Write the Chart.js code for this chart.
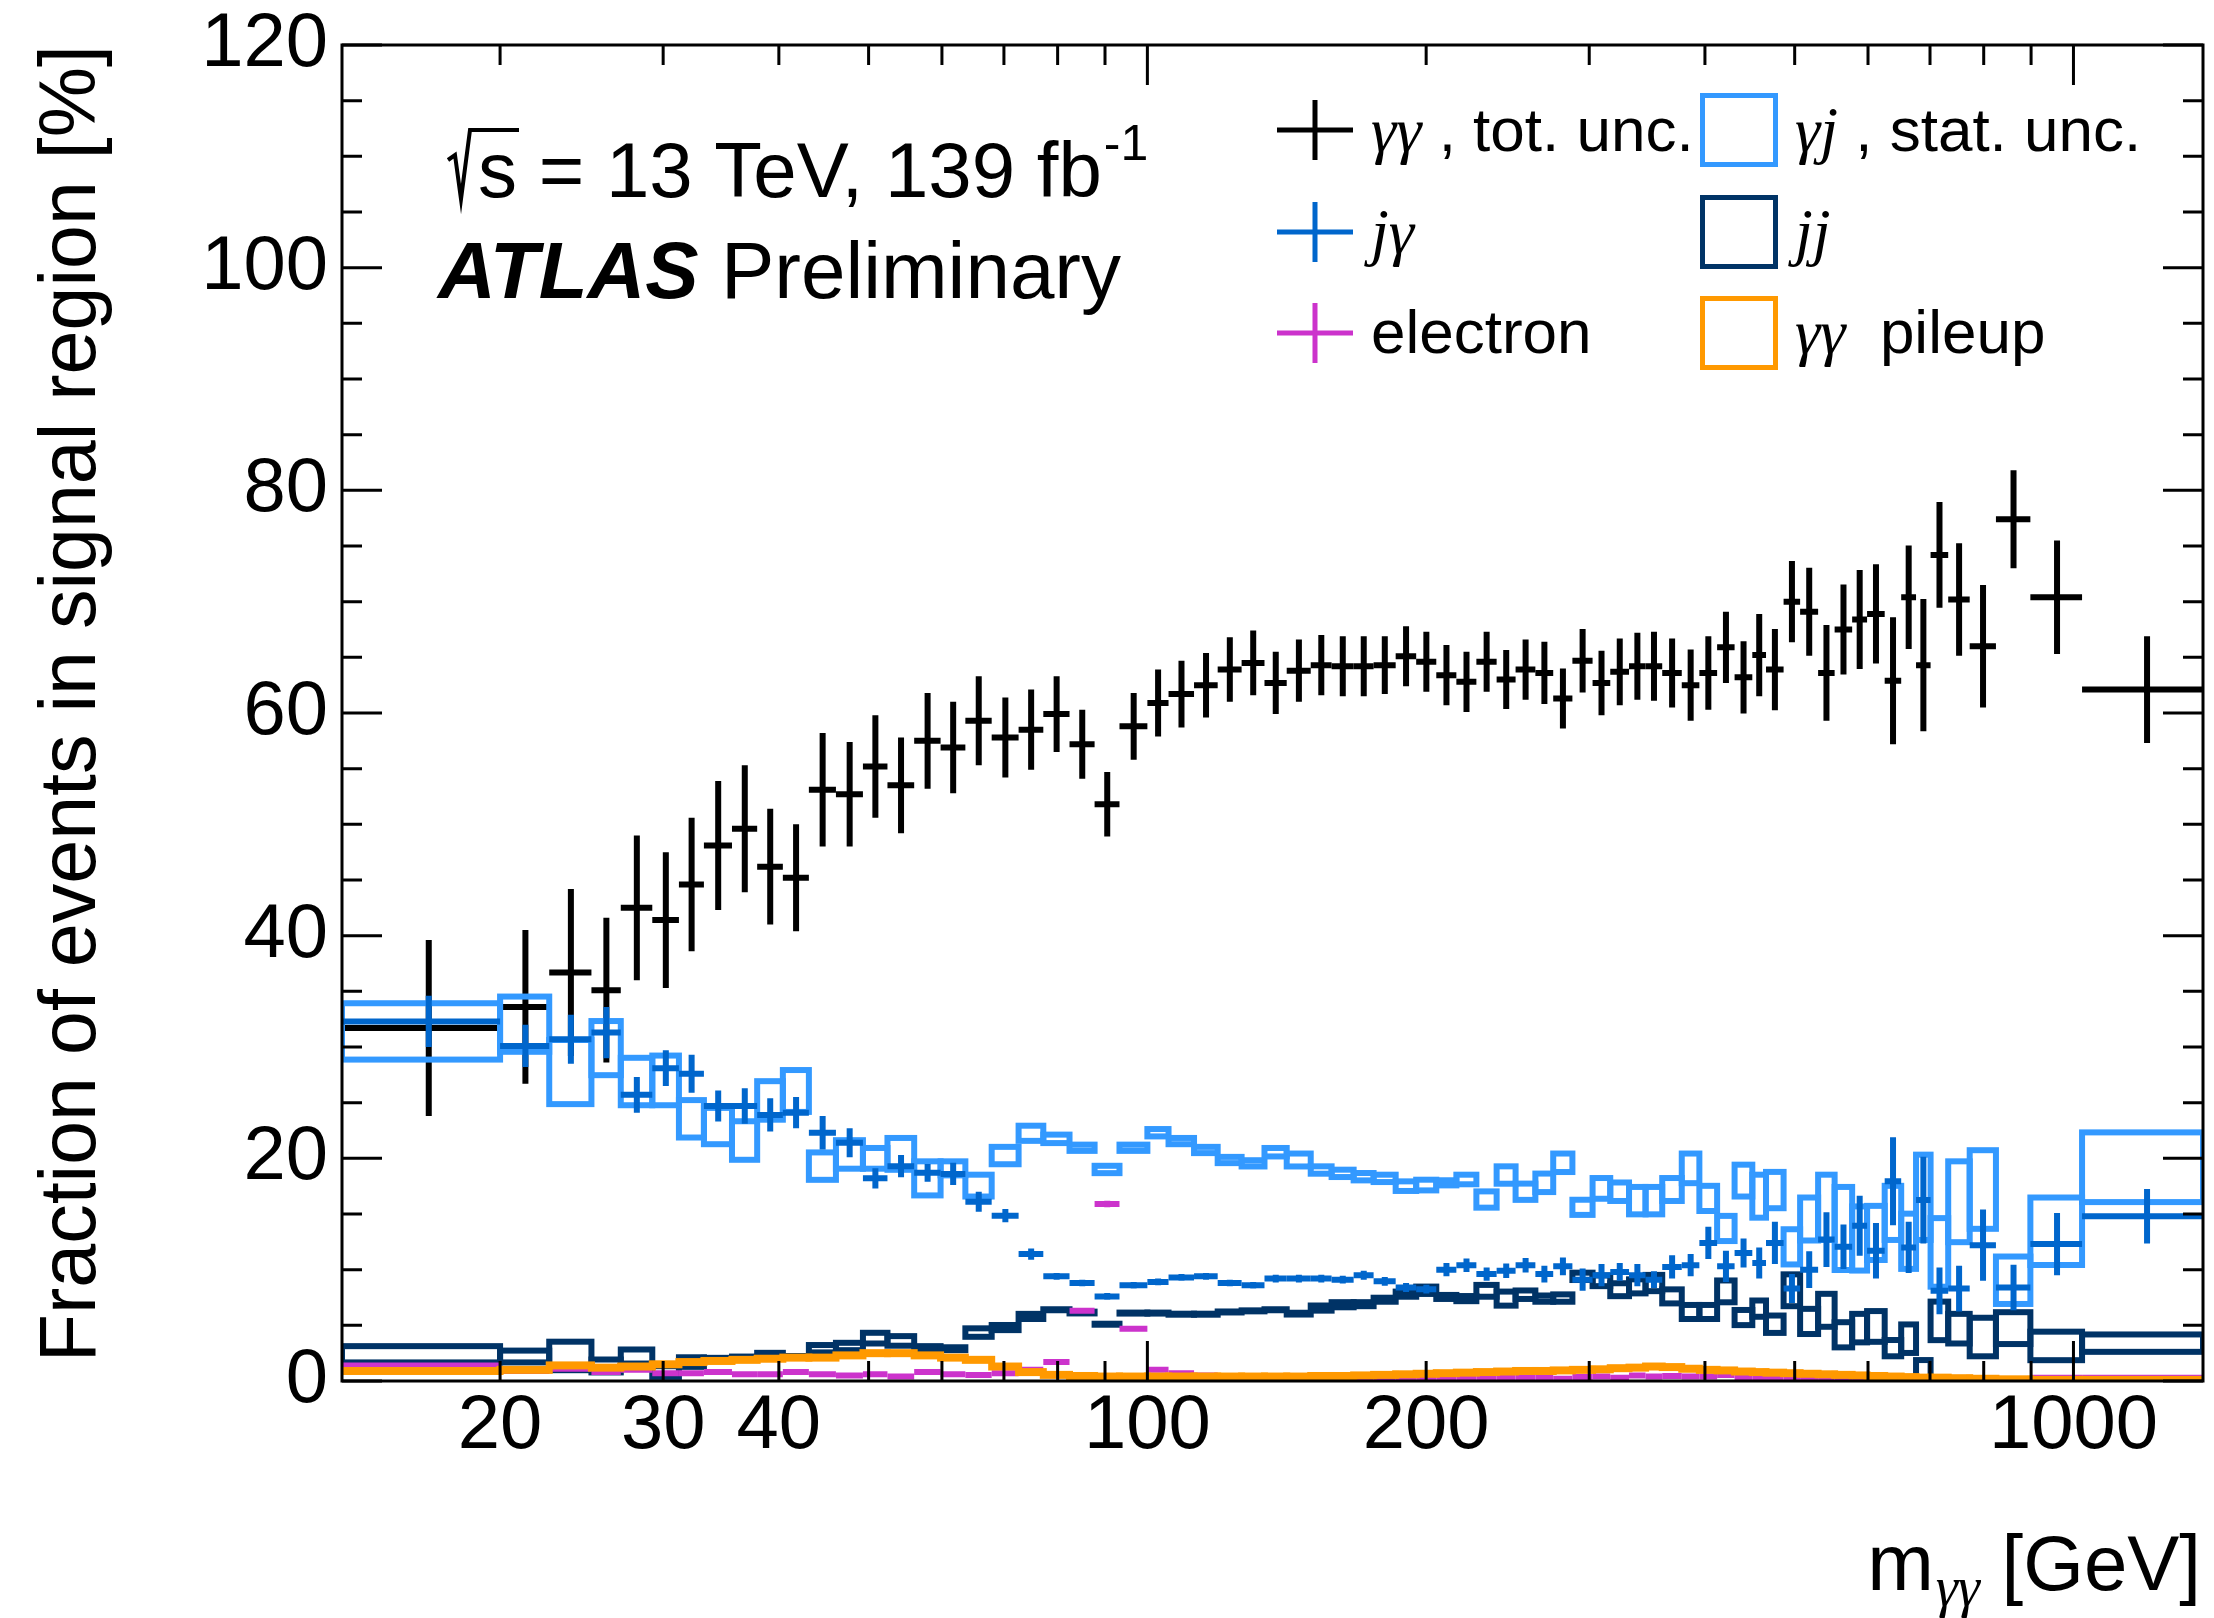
<!DOCTYPE html>
<html lang="en">
<head>
<meta charset="UTF-8">
<title>Fraction of events in signal region</title>
<script src="https://cdn.jsdelivr.net/npm/chart.js"></script>
<style>
  * { margin: 0; padding: 0; }
  body { background: #fff; }
  canvas { display: block; }
</style>
</head>
<body>
<canvas id="myChart" width="2214" height="1618"></canvas>
<script>
// m_yy bin edges [GeV]
const binEdges = [13.5, 20, 22.6, 25.1, 27.0, 29.2, 31.2, 33.2, 35.6, 37.9, 40.4, 43.1, 46.1, 49.3, 52.4, 56.0,
  59.8, 63.6, 67.9, 72.6, 77.2, 82.4, 87.7, 93.3, 100, 105.4, 112.3, 119.1, 126.4, 133.8, 141.4, 150.1,
  158.1, 167.0, 175.5, 185.4, 195.1, 205.1, 215.6, 226.6, 238.3, 249.8, 262.4, 274.3, 287.7, 302.5, 316.1,
  331.2, 345.1, 359.7, 377.6, 394.5, 412.3, 430.6, 450, 465.6, 486.4, 506.8, 530, 552.2, 576.8, 598.6,
  625.4, 651.6, 676.1, 701, 732.4, 772.6, 824.7, 898.4, 1021.6, 1380];

// yy, tot. unc.
const yyVal = [31.7, 33.6, 36.7, 35.1, 42.5, 41.4, 44.6, 48.1, 49.6, 46.2,
  45.2, 53.1, 52.7, 55.2, 53.5, 57.5, 56.9, 59.3, 57.8, 58.5,
  59.9, 57.2, 51.8, 58.8, 60.9, 61.7, 62.5, 63.9, 64.5, 62.7,
  63.8, 64.3, 64.2, 64.2, 64.3, 65.1, 64.6, 63.4, 62.8, 64.6,
  63.0, 63.9, 63.6, 61.3, 64.7, 62.7, 63.7, 64.2, 64.2, 63.6,
  62.5, 63.6, 65.9, 63.2, 65.2, 63.9, 70.0, 69.1, 63.6, 67.5,
  68.4, 68.9, 62.9, 70.4, 64.3, 74.2, 70.2, 66.0, 77.4, 70.4,
  62.1];
const yyErr = [7.9, 6.9, 7.5, 6.5, 6.5, 6.1, 6.0, 5.8, 5.7, 5.2,
  4.8, 5.1, 4.7, 4.6, 4.3, 4.3, 4.1, 4.0, 3.6, 3.6,
  3.4, 3.1, 2.9, 3.0, 3.0, 3.0, 2.9, 2.9, 2.9, 2.8,
  2.8, 2.7, 2.7, 2.7, 2.6, 2.7, 2.7, 2.7, 2.7, 2.7,
  2.65, 2.7, 2.8, 2.7, 2.85, 2.9, 3.0, 3.0, 3.1, 3.1,
  3.2, 3.3, 3.2, 3.25, 3.7, 3.65, 3.65, 3.95, 4.3, 4.05,
  4.45, 4.45, 5.7, 4.65, 5.95, 4.75, 5.05, 5.5, 4.4, 5.1,
  4.8];

// j-gamma
const jyVal = [32.3, 30.1, 30.7, 31.3, 25.7, 28.1, 27.6, 24.7, 24.7, 23.9,
  24.1, 22.3, 21.4, 18.2, 19.3, 18.7, 18.6, 16.1, 14.85, 11.4,
  9.4, 8.8, 7.6, 8.6, 8.9, 9.3, 9.4, 8.8, 8.6, 9.2,
  9.2, 9.2, 9.1, 9.5, 8.95, 8.4, 8.25, 10.0, 10.4, 9.6,
  9.9, 10.4, 9.6, 10.3, 9.1, 9.5, 9.8, 9.5, 9.1, 10.25,
  10.4, 12.4, 10.3, 11.5, 10.6, 12.4, 8.3, 10.0, 12.7, 12.05,
  13.95, 11.7, 17.95, 12.0, 16.25, 8.1, 8.3, 12.2, 8.4, 12.3,
  14.8];
const jyErr = [2.3, 1.9, 2.2, 2.3, 1.6, 1.6, 1.7, 1.4, 1.6, 1.5,
  1.4, 1.5, 1.3, 0.9, 1.0, 0.8, 1.0, 0.9, 0.6, 0.5,
  0.3, 0.3, 0.3, 0.3, 0.3, 0.3, 0.3, 0.3, 0.3, 0.35,
  0.35, 0.35, 0.35, 0.4, 0.4, 0.4, 0.4, 0.6, 0.6, 0.6,
  0.65, 0.65, 0.75, 0.8, 1.0, 1.0, 0.8, 1.0, 0.75, 1.05,
  1.0, 1.45, 1.4, 1.3, 1.4, 1.9, 1.3, 1.65, 2.45, 2.0,
  2.7, 2.5, 3.95, 2.3, 3.9, 2.1, 2.05, 3.2, 2.05, 2.8,
  2.45];

// electron
const eVal = [1.4, 0.9, 1.1, 0.8, 1.0, 0.7, 0.7, 0.8, 0.6, 0.6,
  0.8, 0.6, 0.5, 0.6, 0.4, 0.8, 0.6, 0.55, 0.7, 1.0,
  1.7, 6.3, 15.9, 4.7, 1.0, 0.7, 0.5, 0.4, 0.35, 0.35,
  0.3, 0.3, 0.3, 0.3, 0.3, 0.3, 0.25, 0.3, 0.3, 0.3,
  0.35, 0.3, 0.3, 0.2, 0.35, 0.4, 0.3, 0.5, 0.4, 0.45,
  0.4, 0.4, 0.55, 0.3, 0.3, 0.35, 0.3, 0.25, 0.2, 0.3,
  0.2, 0.15, 0.2, 0.15, 0.1, 0.1, 0.1, 0.05, 0.05, 0.3,
  0.3];
const eErr = [0.2, 0.2, 0.2, 0.2, 0.2, 0.15, 0.15, 0.15, 0.15, 0.15,
  0.15, 0.15, 0.15, 0.15, 0.15, 0.15, 0.15, 0.15, 0.15, 0.2,
  0.2, 0.25, 0.3, 0.25, 0.15, 0.1, 0.1, 0.1, 0.1, 0.1,
  0.1, 0.1, 0.1, 0.1, 0.1, 0.1, 0.1, 0.1, 0.1, 0.1,
  0.1, 0.1, 0.1, 0.1, 0.1, 0.1, 0.1, 0.1, 0.1, 0.1,
  0.1, 0.1, 0.1, 0.1, 0.1, 0.1, 0.1, 0.1, 0.1, 0.1,
  0.1, 0.1, 0.1, 0.1, 0.1, 0.1, 0.1, 0.1, 0.1, 0.1,
  0.1];

// gamma-j, stat. unc.
const gjVal = [31.4, 32.05, 27.75, 29.9, 26.9, 27.0, 23.55, 22.9, 21.6, 25.2,
  26.05, 19.3, 20.35, 20.0, 20.4, 18.2, 19.1, 17.55, 20.25, 22.25,
  21.75, 20.95, 19.0, 20.95, 22.3, 21.55, 20.75, 19.85, 19.55, 20.55,
  19.85, 18.95, 18.65, 18.35, 18.2, 17.5, 17.6, 17.8, 18.1, 16.3,
  18.5, 17.0, 17.8, 19.6, 15.6, 17.3, 17.0, 16.2, 16.2, 17.2,
  19.1, 16.4, 13.7, 18.0, 16.6, 17.15, 12.05, 14.55, 15.6, 13.7,
  12.8, 13.3, 15.1, 12.55, 16.5, 11.55, 16.1, 17.2, 9.05, 13.45,
  19.2];
const gjErr = [2.8, 2.75, 3.15, 2.7, 2.4, 2.5, 1.95, 1.9, 2.0, 2.0,
  2.15, 1.5, 1.55, 1.2, 1.7, 1.8, 0.9, 1.25, 1.05, 0.95,
  0.65, 0.55, 0.6, 0.55, 0.6, 0.55, 0.55, 0.55, 0.55, 0.65,
  0.85, 0.6, 0.6, 0.6, 0.6, 0.7, 0.75, 0.5, 0.7, 1.0,
  1.05, 1.0, 1.1, 1.1, 0.95, 1.2, 1.1, 1.5, 1.5, 1.3,
  1.6, 1.4, 1.4, 1.7, 2.2, 1.9, 1.85, 2.2, 3.2, 4.0,
  3.15, 2.7, 2.7, 2.75, 4.1, 3.35, 3.9, 3.8, 2.4, 3.3,
  3.4];

// jj
const jjVal = [2.4, 2.2, 2.25, 1.35, 2.2, 0.85, 1.7, 2.0, 2.15, 2.45,
  2.2, 2.9, 3.1, 3.85, 3.6, 2.95, 2.9, 4.35, 4.8, 5.8,
  6.4, 6.15, 5.1, 6.1, 6.1, 6.0, 6.0, 6.2, 6.3, 6.4,
  6.05, 6.55, 6.85, 6.9, 7.3, 7.8, 8.15, 7.55, 7.4, 8.1,
  7.4, 7.75, 7.4, 7.45, 9.4, 9.0, 8.2, 8.5, 8.8, 7.6,
  6.2, 6.2, 8.05, 5.7, 6.5, 5.1, 8.15, 5.35, 6.35, 4.15,
  4.75, 4.9, 2.95, 3.8, 1.05, 5.4, 4.7, 3.95, 4.75, 3.15,
  3.4];
const jjErr = [1.0, 0.8, 1.55, 0.85, 0.9, 0.75, 0.7, 0.35, 0.3, 0.35,
  0.2, 0.6, 0.6, 0.75, 0.7, 0.45, 0.4, 0.65, 0.5, 0.5,
  0.3, 0.35, 0.3, 0.3, 0.3, 0.3, 0.3, 0.3, 0.3, 0.3,
  0.35, 0.5, 0.5, 0.45, 0.45, 0.5, 0.6, 0.45, 0.5, 0.8,
  0.9, 0.65, 0.55, 0.6, 0.6, 0.75, 0.85, 0.9, 1.0, 0.9,
  0.9, 0.9, 1.25, 0.95, 1.0, 1.05, 1.7, 1.4, 1.75, 1.4,
  1.55, 1.65, 1.0, 1.55, 1.1, 2.0, 1.6, 2.0, 1.7, 1.55,
  1.05];

// yy pileup
const puVal = [0.9, 1.0, 1.4, 1.2, 1.3, 1.5, 1.7, 1.8, 1.9, 2.0,
  2.1, 2.1, 2.3, 2.5, 2.5, 2.3, 2.1, 1.9, 1.3, 0.8,
  0.55, 0.45, 0.4, 0.4, 0.4, 0.4, 0.4, 0.4, 0.4, 0.4,
  0.4, 0.45, 0.45, 0.5, 0.55, 0.6, 0.65, 0.7, 0.75, 0.8,
  0.85, 0.9, 0.9, 0.95, 1.0, 1.05, 1.15, 1.2, 1.3, 1.25,
  1.1, 1.0, 0.95, 0.85, 0.8, 0.75, 0.7, 0.65, 0.6, 0.55,
  0.5, 0.45, 0.4, 0.35, 0.3, 0.3, 0.25, 0.2, 0.15, 0.1,
  0.1];
const puErr = [0.1, 0.1, 0.1, 0.1, 0.1, 0.1, 0.1, 0.1, 0.1, 0.1,
  0.1, 0.1, 0.1, 0.1, 0.1, 0.1, 0.1, 0.1, 0.1, 0.1,
  0.05, 0.05, 0.05, 0.05, 0.05, 0.05, 0.05, 0.05, 0.05, 0.05,
  0.05, 0.05, 0.05, 0.05, 0.05, 0.05, 0.05, 0.05, 0.05, 0.05,
  0.05, 0.05, 0.05, 0.05, 0.05, 0.05, 0.05, 0.05, 0.05, 0.05,
  0.05, 0.05, 0.05, 0.05, 0.05, 0.05, 0.05, 0.05, 0.05, 0.05,
  0.05, 0.05, 0.05, 0.05, 0.05, 0.05, 0.05, 0.05, 0.05, 0.05,
  0.05];

// axis ticks
const xLabelTicks = [20, 30, 40, 100, 200, 1000];
const xMajorTicks = [100, 1000];
const xMinorTicks = [20, 30, 40, 50, 60, 70, 80, 90, 200, 300, 400, 500, 600, 700, 800, 900];
const yMajorTicks = [0, 20, 40, 60, 80, 100, 120];
const yMinorTicks = [5, 10, 15, 25, 30, 35, 45, 50, 55, 65, 70, 75, 85, 90, 95, 105, 110, 115];

const colYY = '#000000';
const colJY = '#0066cc';
const colE = '#cc33cc';
const colGJ = '#3399ff';
const colJJ = '#003366';
const colPU = '#ff9900';

const SANS = '"Liberation Sans", Arial, Helvetica, sans-serif';
const SERIF = '"Liberation Serif", "DejaVu Serif", serif';

function points(vals) {
  return vals.map((v, i) => ({ x: (binEdges[i] + binEdges[i + 1]) / 2, y: v }));
}

function drawCrosses(ctx, xs, ys, vals, errs, color, lw) {
  ctx.strokeStyle = color;
  ctx.lineWidth = lw;
  ctx.lineCap = 'butt';
  vals.forEach((v, i) => {
    const lo = binEdges[i], hi = binEdges[i + 1];
    const x0 = xs.getPixelForValue(lo), x1 = xs.getPixelForValue(hi);
    const xc = xs.getPixelForValue((lo + hi) / 2);
    const yc = ys.getPixelForValue(v);
    ctx.beginPath();
    ctx.moveTo(x0, yc);
    ctx.lineTo(x1, yc);
    ctx.moveTo(xc, ys.getPixelForValue(v - errs[i]));
    ctx.lineTo(xc, ys.getPixelForValue(v + errs[i]));
    ctx.stroke();
  });
}

function drawBoxes(ctx, xs, ys, vals, errs, color, lw) {
  ctx.strokeStyle = color;
  ctx.lineWidth = lw;
  ctx.lineJoin = 'miter';
  vals.forEach((v, i) => {
    const x0 = xs.getPixelForValue(binEdges[i]), x1 = xs.getPixelForValue(binEdges[i + 1]);
    const yc = ys.getPixelForValue(v);
    const half = Math.max(Math.abs(yc - ys.getPixelForValue(v + errs[i])) - lw / 2, 0.5);
    ctx.strokeRect(x0, yc - half, x1 - x0, 2 * half);
  });
}

// text made of runs with different fonts
function drawRuns(ctx, x, y, runs) {
  ctx.textAlign = 'left';
  ctx.textBaseline = 'alphabetic';
  runs.forEach(r => {
    ctx.font = r.font;
    ctx.fillText(r.text, x, y + (r.dy || 0));
    x += ctx.measureText(r.text).width;
  });
  return x;
}

const atlasStyle = {
  id: 'atlasStyle',
  afterDraw(chart) {
    const ctx = chart.ctx;
    const area = chart.chartArea;
    const xs = chart.scales.x, ys = chart.scales.y;

    // data
    ctx.save();
    ctx.beginPath();
    ctx.rect(area.left, area.top, area.right - area.left, area.bottom - area.top);
    ctx.clip();
    drawCrosses(ctx, xs, ys, yyVal, yyErr, colYY, 6);
    drawBoxes(ctx, xs, ys, gjVal, gjErr, colGJ, 6);
    drawBoxes(ctx, xs, ys, jjVal, jjErr, colJJ, 6);
    drawCrosses(ctx, xs, ys, jyVal, jyErr, colJY, 6);
    drawCrosses(ctx, xs, ys, eVal, eErr, colE, 6);
    drawBoxes(ctx, xs, ys, puVal, puErr, colPU, 7);
    ctx.restore();

    // frame and ticks
    ctx.save();
    ctx.strokeStyle = '#000';
    ctx.lineWidth = 3;
    ctx.strokeRect(area.left, area.top, area.right - area.left, area.bottom - area.top);
    ctx.beginPath();
    const yTick = (v, len) => {
      const p = ys.getPixelForValue(v);
      ctx.moveTo(area.left, p); ctx.lineTo(area.left + len, p);
      ctx.moveTo(area.right, p); ctx.lineTo(area.right - len, p);
    };
    const xTick = (v, len) => {
      const p = xs.getPixelForValue(v);
      ctx.moveTo(p, area.bottom); ctx.lineTo(p, area.bottom - len);
      ctx.moveTo(p, area.top); ctx.lineTo(p, area.top + len);
    };
    yMajorTicks.forEach(v => yTick(v, 40));
    yMinorTicks.forEach(v => yTick(v, 20));
    xMajorTicks.forEach(v => xTick(v, 40));
    xMinorTicks.forEach(v => xTick(v, 20));
    ctx.stroke();
    ctx.restore();

    ctx.save();
    ctx.fillStyle = '#000';

    // x axis title, right aligned to the frame
    ctx.font = '78px ' + SANS;
    const wGeV = ctx.measureText('[GeV]').width;
    const wSpace = ctx.measureText(' ').width;
    ctx.font = 'italic 56px ' + SERIF;
    const wSub = ctx.measureText('γγ').width;
    ctx.font = '80px ' + SANS;
    const wM = ctx.measureText('m').width;
    let xt = area.right - wGeV - wSpace - wSub - wM - 4;
    xt = drawRuns(ctx, xt, 1590, [{ text: 'm', font: '80px ' + SANS }]);
    xt = drawRuns(ctx, xt + 2, 1606, [{ text: 'γγ', font: 'italic 56px ' + SERIF }]);
    drawRuns(ctx, xt, 1590, [{ text: ' [GeV]', font: '78px ' + SANS }]);

    // sqrt(s) line
    ctx.strokeStyle = '#000';
    ctx.lineWidth = 4;
    ctx.lineJoin = 'miter';
    ctx.beginPath();
    ctx.moveTo(448, 160);
    ctx.lineTo(455, 155);
    ctx.lineTo(461, 199);
    ctx.lineTo(470, 130);
    ctx.lineTo(519, 130);
    ctx.stroke();
    const xs2 = drawRuns(ctx, 478, 197, [{ text: 's = 13 TeV, 139 fb', font: '78px ' + SANS }]);
    drawRuns(ctx, xs2 + 2, 160, [{ text: '-1', font: '50px ' + SANS }]);

    drawRuns(ctx, 438, 298, [
      { text: 'ATLAS', font: 'italic bold 80px ' + SANS },
      { text: ' Preliminary', font: '80px ' + SANS }
    ]);

    // legend
    const rows = [130, 232, 333];
    const base = [151, 253, 353];
    const crossCols = [colYY, colJY, colE];
    crossCols.forEach((c, k) => {
      ctx.strokeStyle = c;
      ctx.lineWidth = 5;
      ctx.beginPath();
      ctx.moveTo(1277, rows[k]); ctx.lineTo(1353, rows[k]);
      ctx.moveTo(1315, rows[k] - 30); ctx.lineTo(1315, rows[k] + 30);
      ctx.stroke();
    });
    const boxCols = [colGJ, colJJ, colPU];
    boxCols.forEach((c, k) => {
      ctx.strokeStyle = c;
      ctx.lineWidth = 5;
      ctx.strokeRect(1702.5, rows[k] - 34.5, 73, 69);
    });
    const L = '62px ' + SANS;
    const G = 'italic 64px ' + SERIF;
    drawRuns(ctx, 1371, base[0], [{ text: 'γγ', font: G }, { text: ' , tot. unc.', font: L }]);
    drawRuns(ctx, 1371, base[1], [{ text: 'jγ', font: G }]);
    drawRuns(ctx, 1371, base[2], [{ text: 'electron', font: L }]);
    drawRuns(ctx, 1795, base[0], [{ text: 'γj', font: G }, { text: ' , stat. unc.', font: L }]);
    drawRuns(ctx, 1795, base[1], [{ text: 'jj', font: G }]);
    drawRuns(ctx, 1795, base[2], [{ text: 'γγ', font: G }, { text: '  pileup', font: L }]);
    ctx.restore();
  }
};

Chart.defaults.font.family = SANS;
Chart.defaults.color = '#000';

const data = {
  datasets: [
    { label: 'γγ, tot. unc.', data: points(yyVal), borderColor: colYY, pointRadius: 0, showLine: false },
    { label: 'jγ', data: points(jyVal), borderColor: colJY, pointRadius: 0, showLine: false },
    { label: 'electron', data: points(eVal), borderColor: colE, pointRadius: 0, showLine: false },
    { label: 'γj, stat. unc.', data: points(gjVal), borderColor: colGJ, pointRadius: 0, showLine: false },
    { label: 'jj', data: points(jjVal), borderColor: colJJ, pointRadius: 0, showLine: false },
    { label: 'γγ pileup', data: points(puVal), borderColor: colPU, pointRadius: 0, showLine: false }
  ]
};

const config = {
  type: 'scatter',
  data,
  options: {
    responsive: false,
    animation: false,
    devicePixelRatio: 1,
    layout: { padding: { top: 45, right: 11, left: 0, bottom: 0 } },
    plugins: { legend: { display: false }, tooltip: { enabled: false } },
    scales: {
      x: {
        type: 'logarithmic',
        min: 13.5,
        max: 1380,
        grid: { display: false, drawTicks: false },
        border: { display: false },
        ticks: {
          autoSkip: false,
          maxRotation: 0,
          padding: 0,
          font: { size: 76 },
          color: '#000',
          callback: v => String(v)
        },
        afterBuildTicks: s => { s.ticks = xLabelTicks.map(v => ({ value: v })); },
        afterFit: s => { s.height = 237; s.paddingLeft = 0; s.paddingRight = 0; }
      },
      y: {
        min: 0,
        max: 120,
        grid: { display: false, drawTicks: false },
        border: { display: false },
        ticks: { stepSize: 20, padding: 14, font: { size: 76 }, color: '#000' },
        title: {
          display: true,
          text: 'Fraction of events in signal region [%]',
          align: 'end',
          font: { size: 79 },
          color: '#000',
          padding: { top: 26, bottom: 0 }
        },
        afterFit: s => { s.width = 342; s.paddingTop = 0; s.paddingBottom = 0; }
      }
    }
  },
  plugins: [atlasStyle]
};

const myChart = new Chart(document.getElementById('myChart'), config);
</script>
</body>
</html>
